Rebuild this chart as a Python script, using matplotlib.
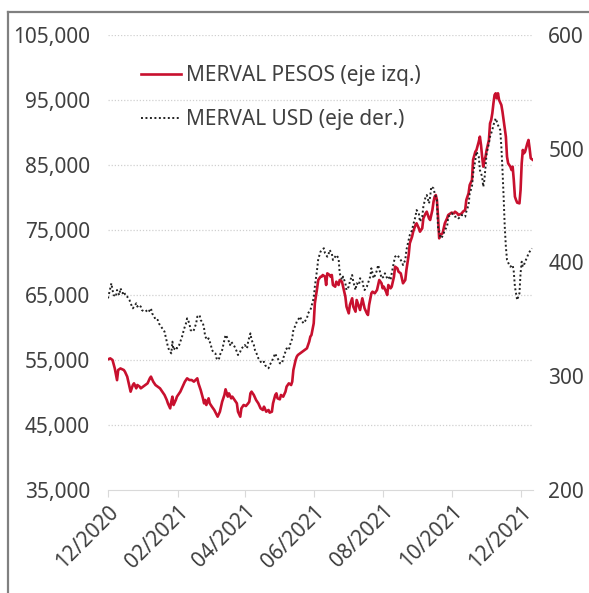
import matplotlib
matplotlib.use("Agg")
import matplotlib.pyplot as plt
import matplotlib.dates as mdates
from matplotlib.lines import Line2D
import pandas as pd

# dias desde 01/12/2020
dias_pesos = [0, 2, 4, 6, 8, 9, 11, 14, 15, 17, 19, 20, 22, 23, 25, 26, 28, 29, 31, 33, 35, 37, 38, 40,
              42, 44, 46, 48, 50, 52, 53, 55, 56, 57, 58, 60, 61, 64, 66, 68, 70, 72, 74, 76, 79, 80,
              82, 84, 85, 86, 87, 89, 90, 92, 94, 97, 99, 101, 103, 104, 106, 107, 109, 110, 112,
              114, 115, 117, 118, 120, 122, 124, 125, 126, 127, 129, 131, 133, 135, 137, 138, 140,
              142, 143, 145, 146, 148, 149, 150, 152, 153, 155, 157, 158, 160, 162, 163, 164, 166,
              167, 168, 170, 172, 174, 176, 178, 179, 180, 182, 183, 185, 186, 188, 189, 190, 192,
              193, 194, 196, 197, 198, 199, 201, 202, 204, 205, 207, 208, 210, 211, 213, 214, 216,
              217, 219, 220, 222, 223, 225, 226, 227, 229, 230, 231, 233, 234, 236, 238, 240, 242,
              243, 244, 246, 247, 248, 250, 251, 253, 254, 256, 257, 259, 260, 261, 263, 264, 266,
              267, 269, 270, 272, 273, 275, 276, 278, 279, 281, 282, 284, 285, 287, 288, 289, 290,
              291, 292, 293, 294, 296, 297, 298, 300, 301, 303, 304, 306, 307, 309, 310, 312, 313,
              314, 316, 317, 319, 320, 322, 323, 325, 326, 328, 329, 330, 331, 332, 333, 334, 335,
              337, 338, 339, 340, 341, 342, 343, 344, 345, 346, 348, 349, 350, 352, 353, 354, 356,
              357, 358, 359, 360, 361, 362, 364, 365, 366, 367, 368, 369, 371, 372, 373, 374, 376]
merval_pesos = [55100, 55250, 55000, 53700, 51900, 53460, 53700, 53460, 53200, 52440, 50900, 50130,
                51150, 51410, 50640, 51150, 50900, 50640, 50900, 51150, 51410, 52180, 52440, 51670,
                51150, 50900, 50640, 50130, 49620, 48850, 48330, 47560, 48590, 49360, 48080, 48850,
                49360, 50130, 50900, 51670, 52180, 51920, 51920, 51670, 52180, 51410, 50380, 49100,
                48330, 48850, 48080, 49100, 48330, 47800, 47310, 46280, 47050, 48590, 49620, 50490,
                49360, 49870, 49100, 49360, 48850, 48330, 47050, 46280, 47560, 48080, 47920, 48330,
                48590, 49870, 50130, 49620, 48850, 48330, 47560, 47310, 47820, 47050, 47310, 46900,
                47050, 48330, 49620, 49870, 49100, 48950, 49620, 49360, 50130, 50900, 51410, 51150,
                51670, 53460, 55000, 55510, 55770, 56030, 56280, 56540, 56800, 57820, 58590, 58850,
                60640, 63720, 66030, 67310, 67800, 67820, 68080, 67820, 66540, 68330, 68080, 67820,
                68080, 66540, 66280, 67050, 66540, 67310, 67050, 66280, 64740, 63210, 62180, 63460,
                64490, 63210, 62440, 64230, 63210, 62690, 64490, 63720, 62950, 62180, 61920, 63460,
                65260, 65510, 65260, 65770, 67310, 66800, 66030, 66280, 65510, 65000, 66540, 66030,
                66280, 67820, 69360, 69100, 68590, 68330, 67560, 66800, 67310, 68850, 71150, 72950,
                73970, 74740, 75770, 76030, 75260, 74740, 75260, 76790, 77560, 77820, 76790, 76540,
                78080, 79360, 80130, 80380, 79610, 77000, 73720, 74230, 74490, 75260, 76030, 76800,
                77310, 77560, 77670, 77560, 77820, 77560, 77310, 77460, 77560, 77820, 78080, 79620,
                80640, 81920, 82690, 85800, 87050, 87310, 88590, 89360, 88080, 86280, 84740, 85770,
                86280, 87310, 88850, 91410, 91920, 92950, 94490, 95770, 96030, 95260, 96030, 95000,
                94230, 93200, 91920, 89360, 86280, 85260, 84740, 84230, 84740, 82690, 80130, 79620,
                79210, 79100, 81150, 85260, 87310, 86800, 87050, 88330, 88850, 87560, 86030, 85770]

dias_usd = [0, 2, 3, 4, 5, 7, 8, 10, 11, 13, 14, 16, 17, 19, 20, 22, 23, 25, 26, 27, 29, 30, 32, 33,
            35, 36, 38, 39, 41, 42, 44, 45, 47, 48, 50, 51, 53, 54, 56, 57, 58, 60, 61, 63, 64, 66,
            67, 69, 70, 72, 73, 75, 76, 78, 79, 81, 82, 84, 85, 86, 88, 89, 91, 92, 93, 95, 96, 98,
            99, 101, 102, 104, 105, 107, 108, 109, 111, 112, 114, 115, 117, 118, 120, 121, 123,
            124, 126, 127, 129, 130, 132, 133, 135, 136, 138, 139, 140, 142, 143, 145, 146, 148,
            149, 151, 152, 154, 155, 157, 158, 160, 161, 163, 164, 166, 167, 168, 170, 171, 173,
            174, 176, 177, 179, 180, 181, 182, 183, 185, 186, 188, 189, 191, 192, 194, 195, 196,
            198, 199, 201, 202, 204, 205, 207, 208, 210, 211, 213, 214, 216, 217, 219, 220, 222,
            223, 225, 226, 227, 229, 230, 232, 233, 234, 235, 237, 238, 239, 241, 242, 244, 245,
            247, 248, 250, 251, 253, 254, 256, 257, 258, 260, 261, 263, 264, 266, 267, 269, 270,
            272, 273, 275, 276, 278, 279, 281, 282, 284, 285, 286, 288, 289, 291, 292, 294, 295,
            297, 298, 300, 301, 303, 304, 306, 307, 309, 310, 312, 313, 315, 316, 317, 319, 320,
            322, 323, 325, 326, 328, 329, 331, 332, 333, 334, 335, 337, 338, 340, 341, 343, 344,
            345, 347, 348, 349, 350, 351, 352, 353, 355, 356, 358, 359, 360, 361, 362, 364, 365,
            366, 367, 368, 369, 371, 372, 374, 375]
merval_usd = [368.5, 377.3, 381.7, 375.8, 371.4, 370.0, 375.8, 371.4, 377.3, 372.9, 374.4, 370.0,
              370.0, 367.0, 364.1, 359.7, 361.2, 364.1, 361.2, 362.6, 361.2, 358.2, 356.8, 356.8,
              358.2, 356.8, 359.7, 355.3, 352.4, 349.5, 349.5, 346.5, 343.6, 342.1, 339.2, 334.8,
              326.0, 323.1, 320.1, 330.4, 323.1, 326.0, 324.5, 327.5, 330.4, 336.3, 340.7, 346.5,
              350.9, 346.5, 340.7, 339.2, 340.7, 346.5, 352.4, 353.8, 349.5, 346.5, 342.1, 334.8,
              331.9, 333.3, 327.5, 323.1, 321.6, 320.1, 315.8, 314.3, 318.7, 323.1, 327.5, 336.3,
              334.8, 330.4, 327.5, 330.4, 327.5, 326.0, 321.6, 318.7, 321.6, 324.5, 326.0, 327.5,
              324.5, 330.4, 337.7, 331.9, 327.5, 323.1, 318.7, 315.8, 312.8, 311.4, 312.8, 309.9,
              308.4, 307.0, 309.9, 312.8, 315.8, 320.1, 317.2, 314.3, 311.4, 311.4, 315.8, 321.6,
              324.5, 323.1, 327.5, 333.3, 340.7, 345.0, 348.0, 349.5, 352.4, 349.5, 346.5, 348.0,
              350.9, 355.3, 358.2, 361.2, 365.6, 368.5, 378.8, 394.0, 403.0, 409.5, 411.0, 412.5,
              408.1, 405.1, 406.6, 411.0, 408.1, 402.2, 405.1, 406.6, 403.7, 390.5, 384.6, 387.6,
              381.7, 375.8, 378.8, 383.2, 389.0, 383.2, 375.8, 381.7, 380.2, 386.1, 384.6, 378.8,
              375.8, 378.8, 381.7, 387.6, 394.9, 390.5, 386.1, 390.5, 393.4, 397.8, 390.5, 386.1,
              387.6, 390.5, 386.1, 387.6, 384.6, 390.5, 400.7, 405.1, 406.6, 405.1, 403.7, 400.7,
              397.8, 402.2, 411.0, 419.8, 424.2, 428.6, 433.0, 440.3, 446.1, 443.2, 435.9, 440.3,
              449.1, 457.9, 459.3, 452.0, 457.9, 466.7, 465.2, 460.8, 455.0, 430.1, 422.7, 421.3,
              425.7, 428.6, 431.5, 440.3, 441.8, 443.2, 441.8, 440.3, 440.3, 438.8, 440.3, 441.8,
              440.3, 440.3, 444.7, 450.6, 460.8, 466.7, 478.0, 490.0, 497.4, 493.0, 481.3, 475.4,
              466.6, 472.5, 484.2, 495.9, 504.7, 510.6, 516.5, 520.8, 526.7, 523.8, 520.8, 516.5,
              501.8, 481.3, 457.9, 431.5, 413.9, 402.2, 397.8, 396.3, 397.8, 391.9, 378.7, 372.9,
              367.0, 372.9, 390.5, 400.7, 396.3, 397.8, 400.7, 405.1, 408.0, 410.9, 412.4]

ticks_izq = [35000, 45000, 55000, 65000, 75000, 85000, 95000, 105000]
ticks_der = [200, 300, 400, 500, 600]
ticks_x = ["2020-12-01", "2021-02-01", "2021-04-01", "2021-06-01", "2021-08-01", "2021-10-01", "2021-12-01"]

inicio = pd.Timestamp("2020-12-01")
fechas_pesos = inicio + pd.to_timedelta(dias_pesos, unit="D")
fechas_usd = inicio + pd.to_timedelta(dias_usd, unit="D")

plt.rcParams['font.family'] = ['Noto Sans', 'DejaVu Sans']
color_texto = '#404040'
rojo = '#C8102E'

fig = plt.figure(figsize=(5.89, 5.93), dpi=100)
ax1 = fig.add_axes([108 / 589, 1 - 490 / 593, 425 / 589, 455 / 593])
ax2 = ax1.twinx()

l1, = ax1.plot(fechas_pesos, merval_pesos, color=rojo, linewidth=1.9, zorder=3)
l2, = ax2.plot(fechas_usd, merval_usd, color='#222222', linewidth=1.4, linestyle=(0, (1, 1.3)))

ax1.set_ylim(35000, 105000)
ax1.set_yticks(ticks_izq)
ax1.yaxis.set_major_formatter(matplotlib.ticker.StrMethodFormatter('{x:,.0f}'))
ax2.set_ylim(200, 600)
ax2.set_yticks(ticks_der)

ax1.set_xlim(inicio, pd.Timestamp("2021-12-12"))
ax1.set_xticks(pd.to_datetime(ticks_x))
ax1.xaxis.set_major_formatter(mdates.DateFormatter('%m/%Y'))

for y in ticks_izq[1:]:
    ax1.axhline(y, color='#d0d0d0', linewidth=0.9, linestyle=(0, (1, 1.5)), zorder=0)

for ax in (ax1, ax2):
    for s in ('left', 'right', 'top'):
        ax.spines[s].set_visible(False)
    ax.spines['bottom'].set_color('#d9d9d9')
ax2.spines['bottom'].set_visible(False)

ax1.tick_params(axis='y', length=0, pad=13, labelsize=15, labelcolor=color_texto)
ax2.tick_params(axis='y', length=0, pad=11, labelsize=15, labelcolor=color_texto)
ax1.tick_params(axis='x', length=5, color='#d9d9d9', labelsize=15, labelcolor=color_texto, pad=3)
for lab in ax1.get_xticklabels():
    lab.set_rotation(45)
    lab.set_ha('right')
    lab.set_va('top')
    lab.set_rotation_mode('anchor')

leg = ax1.legend([l1, l2], ["MERVAL PESOS (eje izq.)", "MERVAL USD (eje der.)"],
                 loc='upper left', bbox_to_anchor=(141 / 589, 1 - 65 / 593),
                 bbox_transform=fig.transFigure, frameon=False, fontsize=15,
                 handlelength=1.9, handletextpad=0.25, labelspacing=1.1,
                 borderpad=0, borderaxespad=0, labelcolor=color_texto)

# marco
fig.add_artist(Line2D([8 / 589, 8 / 589], [0, 1 - 12 / 593], transform=fig.transFigure,
                      color='#808080', linewidth=1.6))
fig.add_artist(Line2D([8 / 589, 1], [1 - 12 / 593, 1 - 12 / 593], transform=fig.transFigure,
                      color='#808080', linewidth=1.6))

fig.savefig("out.png", dpi=100)
